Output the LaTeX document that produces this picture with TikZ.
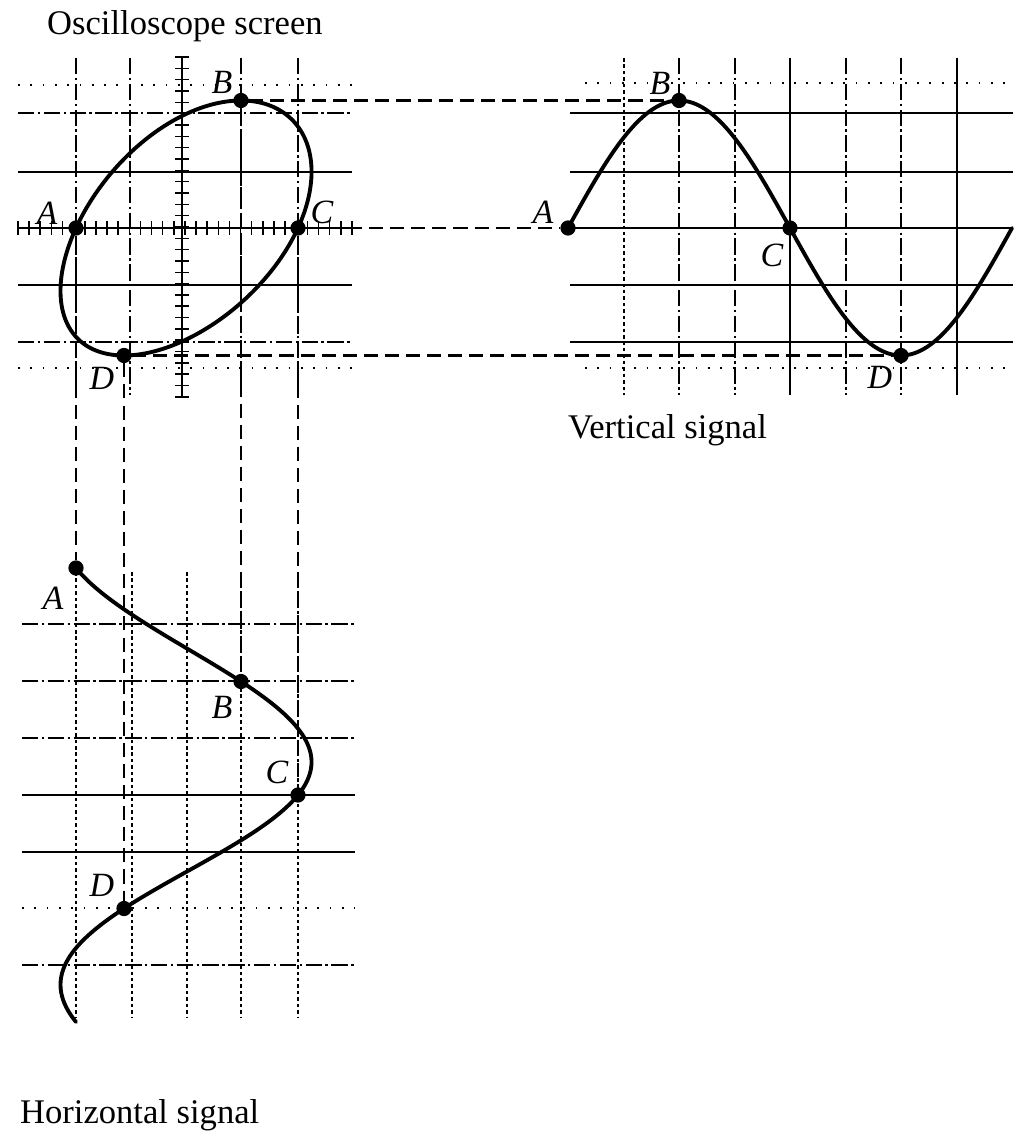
\documentclass[tikz,border=0pt]{standalone}
\usepackage{fontspec}
\setmainfont{Liberation Serif}
\usetikzlibrary{positioning}

\begin{document}
\begin{tikzpicture}[x=0.03cm, y=-0.03cm,
  font=\fontsize{29.5}{34}\selectfont,
  grid/.style={line width=1.6pt},
  gridda/.style={line width=1.4pt, dash pattern=on 14pt off 3pt on 2pt off 3pt},
  griddot/.style={line width=1.4pt, dash pattern=on 1.5pt off 9pt},
  gridfine/.style={line width=1.3pt, dash pattern=on 3pt off 2.5pt},
  axis/.style={line width=1.7pt},
  tick/.style={line width=1.3pt},
  conn/.style={line width=2.4pt, dash pattern=on 12pt off 6pt},
  sig/.style={line width=3.3pt, line cap=round, line join=round},
  dot/.style={circle, fill, inner sep=0pt, minimum size=13pt},
  lbl/.style={font=\fontsize{29}{34}\selectfont\itshape, inner sep=0pt},
  ttl/.style={anchor=base west, inner sep=0pt},
]
\fill[white] (0,0) rectangle (1021,1131);
\useasboundingbox (0,0) rectangle (1021,1131);

% oscilloscope screen
\foreach \y in {172,285} \draw[grid] (18,\y) -- (352,\y);
\foreach \y in {113,342} \draw[gridda] (18,\y) -- (352,\y);
\foreach \y in {85,368} \draw[griddot] (18,\y) -- (352,\y);
\foreach \x in {76,130,241,298} \draw[gridda] (\x,58) -- (\x,395);
\draw[axis] (18,228) -- (352,228);
\draw[axis] (182,56) -- (182,397);
\foreach \i in {0,...,30} {
  \draw[tick] ({18+11.13*\i},221) -- ++(0,14);
  \draw[tick] (175,{57+11.33*\i}) -- ++(14,0);
}
\draw[sig] plot[domain=0:360, samples=121, smooth, variable=\t]
  ({184.75-111*cos(\t)+58.5*sin(\t)+2.25*cos(2*\t)}, {228-127.5*sin(\t)});
\node[dot] (sA) at (76,228) {};
\node[dot] (sB) at (241,100.5) {};
\node[dot] (sC) at (298,228) {};
\node[dot] (sD) at (124,355.5) {};

% vertical signal
\foreach \y in {113,172,228,285,342} \draw[grid] (570,\y) -- (1013,\y);
\foreach \y in {83,368} \draw[griddot] (585,\y) -- (1013,\y);
\draw[gridfine] (624,58) -- (624,395);
\foreach \x in {679,735,846,901} \draw[gridda] (\x,58) -- (\x,395);
\foreach \x in {790,957} \draw[grid] (\x,58) -- (\x,395);
\draw[sig] plot[domain=0:360, samples=100, smooth, variable=\t]
  ({568+\t/90*111}, {228-127.5*sin(\t)});
\node[dot] (vA) at (568,228) {};
\node[dot] (vB) at (679,100.5) {};
\node[dot] (vC) at (790,228) {};
\node[dot] (vD) at (901,355.5) {};

% horizontal signal
\foreach \y in {624,681,738,965} \draw[gridda] (22,\y) -- (355,\y);
\foreach \y in {795,852} \draw[grid] (22,\y) -- (355,\y);
\draw[griddot] (22,908) -- (355,908);
\foreach \x in {76,132,187,241,298} \draw[gridfine] (\x,572) -- (\x,1017);
\draw[sig] plot[domain=0:360, samples=121, smooth, variable=\t]
  ({184.75-111*cos(\t)+58.5*sin(\t)+2.25*cos(2*\t)}, {568+\t/90*113.5});
\node[dot] (hA) at (76,568) {};
\node[dot] (hB) at (241,681.5) {};
\node[dot] (hC) at (298,795) {};
\node[dot] (hD) at (124,908.5) {};

% projections
\draw[conn] (sB) -- (vB);
\draw[conn] (sC) -- (vA);
\draw[conn] (sD) -- (vD);
\draw[conn] (sA) -- (hA);
\draw[conn] (sD) -- (hD);
\draw[conn] (sB) -- (hB);
\draw[conn] (sC) -- (hC);

% point labels
\node[lbl] (lsA) at (47,213) {A};
\node[lbl] (lsB) at (222,82) {B};
\node[lbl] (lsC) at (322,212) {C};
\node[lbl] (lsD) at (102,378) {D};
\node[lbl] (lvA) at (543,212) {A};
\node[lbl] (lvB) at (660,83) {B};
\node[lbl] (lvC) at (772,255) {C};
\node[lbl] (lvD) at (880,377) {D};
\node[lbl] (lhA) at (53,598) {A};
\node[lbl] (lhB) at (222,707) {B};
\node[lbl] (lhC) at (277,772) {C};
\node[lbl] (lhD) at (102,885) {D};

\node[ttl] (tscreen) at (47,35) {Oscilloscope screen};
\node[ttl] (tvert) at (568,438) {Vertical signal};
\node[ttl] (thoriz) at (20,1123) {Horizontal signal};
\end{tikzpicture}
\end{document}
